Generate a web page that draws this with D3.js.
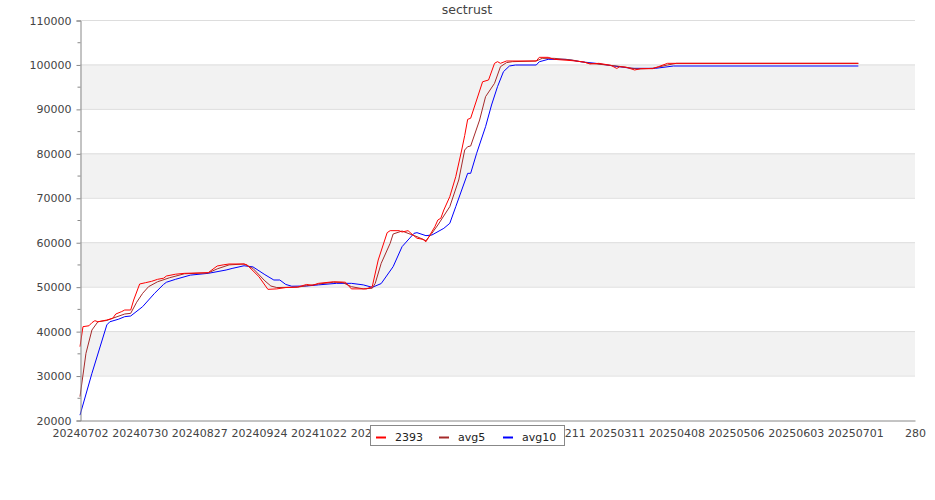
<!DOCTYPE html>
<html>
<head>
<meta charset="utf-8">
<script src="https://cdn.jsdelivr.net/npm/d3@7"></script>
<style>
  html, body { margin: 0; padding: 0; background: #fff; }
  svg { display: block; font-family: "DejaVu Sans", sans-serif; }
</style>
</head>
<body>
<svg id="chart" width="935" height="500"></svg>
<script>
// ---- data: [trading-day index, value] ----
const chartTitle = "sectrust";
const seriesNames = ["2393", "avg5", "avg10"];
const seriesColors = ["#ff0000", "#a52a2a", "#0000ff"];

const price2393 = [
  [0,36500],[1,41000],[3,41200],[4,41900],[5,42350],[6,42100],[9,42500],[11,42900],
  [12,43850],[14,44400],[15,44750],[17,44750],[18,47000],[20,50600],[22,50900],
  [24,51200],[26,51650],[28,51900],[29,52400],[32,52800],[35,53000],[43,53150],
  [46,54650],[48,54900],[50,55100],[55,55100],[56,54900],[60,52250],[63,49400],
  [66,49500],[69,49800],[73,49900],[76,50500],[78,50300],[80,50750],[85,51100],
  [89,51000],[91,49500],[96,49500],[98,50000],[100,56000],[103,62150],[104,62600],
  [107,62600],[108,62300],[110,62600],[111,62000],[113,60900],[115,60650],[116,60100],
  [117,61250],[119,63500],[120,65000],[121,65400],[122,67250],[124,70250],[126,74750],
  [128,80750],[129,84000],[130,87650],[131,87900],[133,92000],[135,96100],[137,96500],
  [139,100250],[140,100625],[141,100250],[143,100775],[153,100775],[154,101600],
  [157,101600],[159,101150],[165,100850],[169,100550],[171,100100],[174,100250],
  [178,99800],[180,99100],[181,99500],[183,99400],[186,98750],[188,99050],[192,99050],
  [194,99500],[197,100250],[261,100250]
];
const avg5 = [
  [0,25250],[2,35000],[4,40250],[6,42100],[9,42400],[11,42900],[15,43850],[17,44000],
  [19,46500],[21,48500],[23,50000],[26,51100],[30,52000],[35,52900],[43,53100],
  [46,54000],[50,54900],[55,55100],[58,54100],[62,51300],[64,50150],[66,49800],
  [73,49900],[76,50200],[80,50600],[85,51000],[88,50950],[91,50000],[95,49500],
  [98,49650],[99,50750],[101,55250],[104,59750],[105,61850],[108,62525],[110,62000],
  [113,61250],[116,60350],[118,62000],[120,63875],[124,68000],[127,74000],[129,80750],
  [130,81500],[131,81650],[134,87500],[136,92750],[139,95750],[141,99500],[143,100400],
  [145,100625],[153,100775],[155,101375],[159,101375],[165,101000],[171,100250],
  [180,99650],[187,98975],[192,99125],[197,99875],[200,100250],[261,100250]
];
const avg10 = [
  [0,21100],[4,30500],[9,41400],[10,42100],[13,42700],[15,43250],[17,43400],[21,45500],
  [25,48500],[28,50500],[29,51000],[32,51650],[37,52600],[43,53000],[49,53750],
  [51,54100],[55,54700],[58,54450],[62,52700],[65,51500],[67,51500],[69,50500],
  [71,50100],[76,50150],[80,50400],[86,50750],[91,50750],[95,50400],[98,49850],
  [101,50700],[105,54500],[108,59000],[112,62000],[113,62150],[116,61475],[118,61625],
  [122,63125],[124,64250],[126,68000],[128,71750],[130,75500],[131,75500],[133,80000],
  [136,86000],[138,90875],[140,95000],[142,98375],[144,99650],[146,99875],[153,99875],
  [154,100600],[157,101150],[163,101150],[168,100600],[173,100250],[179,99650],
  [185,99125],[193,99125],[199,99650],[261,99650]
];

const xTickValues = [0,20,40,60,80,100,120,140,160,180,200,220,240,260,280];
const xTickLabels = ["20240702","20240730","20240827","20240924","20241022","20241119",
  "20241217","20250114","20250211","20250311","20250408","20250506","20250603","20250701","280"];
const yTicks = [20000,30000,40000,50000,60000,70000,80000,90000,100000,110000];
const yMinorTicks = [25000,35000,45000,55000,65000,75000,85000,95000,105000];
const shadedBands = [[30000,40000],[50000,60000],[70000,80000],[90000,100000]];

// ---- drawing ----
const svg = d3.select("#chart");
const mLeft = 80, mRight = 915, mTop = 20, mBottom = 420;
const x = d3.scaleLinear().domain([0, 280]).range([mLeft, mRight]);
const y = d3.scaleLinear().domain([20000, 110000]).range([mBottom, mTop]);

// bands
svg.append("g").selectAll("rect").data(shadedBands).join("rect")
  .attr("x", mLeft).attr("width", mRight - mLeft)
  .attr("y", d => y(d[1])).attr("height", d => y(d[0]) - y(d[1]))
  .attr("fill", "#f2f2f2");

// grid lines
svg.append("g").selectAll("line").data(yTicks.slice(1)).join("line")
  .attr("x1", mLeft).attr("x2", mRight)
  .attr("y1", d => y(d) + 0.5).attr("y2", d => y(d) + 0.5)
  .attr("stroke", "#dddddd").attr("stroke-width", 1);

// series
const line = d3.line().x(d => x(d[0])).y(d => y(d[1]));
const allSeries = [price2393, avg5, avg10];
[avg10, avg5, price2393].forEach((s) => {
  const i = allSeries.indexOf(s);
  svg.append("path").datum(s)
    .attr("d", line).attr("fill", "none")
    .attr("stroke", seriesColors[i]).attr("stroke-width", 1);
});

// y axis
const yAxis = d3.axisLeft(y).tickValues(yTicks).tickFormat(d3.format("d")).tickSize(4).tickPadding(5);
const gy = svg.append("g").attr("transform", `translate(${mLeft + 0.5},0.5)`).call(yAxis);
gy.select(".domain").attr("stroke", "#888");
gy.selectAll(".tick line").attr("stroke", "#888");
gy.selectAll(".tick text").attr("fill", "#444").attr("font-size", "11px").attr("font-family", "DejaVu Sans");
gy.append("g").selectAll("line").data(yMinorTicks).join("line")
  .attr("x1", -3).attr("x2", 0)
  .attr("y1", d => y(d)).attr("y2", d => y(d))
  .attr("stroke", "#888");

// x axis
const xAxis = d3.axisBottom(x).tickValues(xTickValues)
  .tickFormat((d, i) => xTickLabels[i]).tickSize(0).tickPadding(9);
const gx = svg.append("g").attr("transform", `translate(0,${mBottom + 0.5})`).call(xAxis);
gx.select(".domain").attr("stroke", "#888");
gx.selectAll(".tick text").attr("fill", "#444").attr("font-size", "11px").attr("font-family", "DejaVu Sans");

// title
svg.append("text").attr("x", 467).attr("y", 14).attr("text-anchor", "middle")
  .attr("font-size", "12.5px").attr("fill", "#444").text(chartTitle);

// legend
const lg = svg.append("g");
lg.append("rect").attr("x", 370.5).attr("y", 425.5).attr("width", 194).attr("height", 20)
  .attr("fill", "#fff").attr("stroke", "#888");
const legendX = [376, 439, 503];
seriesNames.forEach((n, i) => {
  lg.append("line").attr("x1", legendX[i]).attr("x2", legendX[i] + 10)
    .attr("y1", 437.5).attr("y2", 437.5)
    .attr("stroke", seriesColors[i]).attr("stroke-width", 2);
  lg.append("text").attr("x", legendX[i] + 19).attr("y", 441)
    .attr("font-size", "11px").attr("fill", "#222").text(n);
});
</script>
</body>
</html>
